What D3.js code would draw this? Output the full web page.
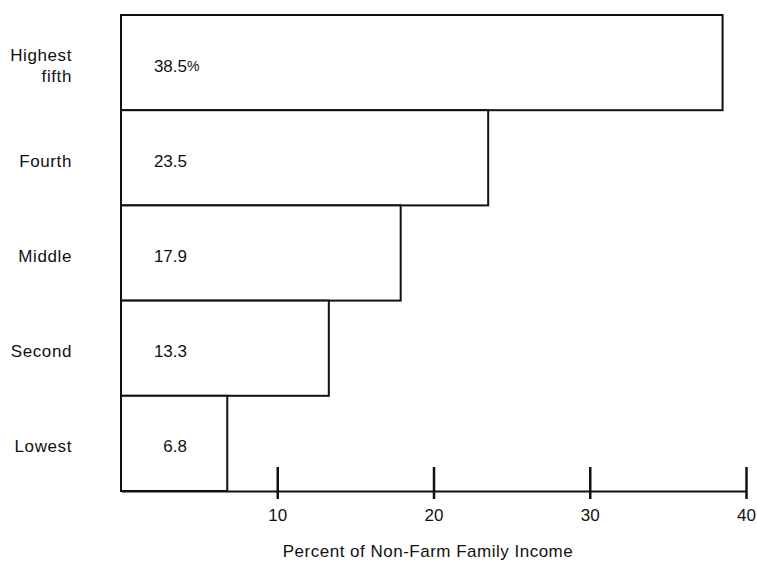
<!DOCTYPE html>
<html>
<head>
<meta charset="utf-8">
<script src="https://cdn.jsdelivr.net/npm/d3@7"></script>
<style>
  body { margin: 0; background: white; }
  text { font-family: "Liberation Sans", Arial, Helvetica, sans-serif; fill: #111; }
</style>
</head>
<body>
<div id="container"></div>
<script>
// data
let categories = ["Highest fifth", "Fourth", "Middle", "Second", "Lowest"];
let categoryLines = [["Highest", "fifth"], ["Fourth"], ["Middle"], ["Second"], ["Lowest"]];
let shares = [38.5, 23.5, 17.9, 13.3, 6.8];
let tickValues = [10, 20, 30, 40];
let axisTitle = "Percent of Non-Farm Family Income";

let w = 757;
let h = 562;

let viz = d3.select("#container")
  .append("svg")
    .attr("width", w)
    .attr("height", h)
    .style("background-color", "white");

let rows = categories.map(function(c, i){
  return {name: c, lines: categoryLines[i], value: shares[i], first: i == 0};
});

let xScale = d3.scaleLinear().domain([0, 40]).range([121, 746]);
let yScale = d3.scaleBand().domain(categories).range([15, 491]).padding(0);
let axisY = 491;

// bars
viz.selectAll(".bar").data(rows).enter()
  .append("rect")
    .attr("class", "bar")
    .attr("x", xScale(0))
    .attr("y", d => yScale(d.name))
    .attr("width", d => xScale(d.value) - xScale(0))
    .attr("height", yScale.bandwidth())
    .attr("fill", "white")
    .attr("stroke", "#111")
    .attr("stroke-width", 2);

// axis, ticks cross the line
let xAxis = d3.axisBottom(xScale).tickValues(tickValues).tickSize(8).tickSizeOuter(0);
let xAxisG = viz.append("g").attr("class", "xaxis")
  .attr("transform", "translate(0," + axisY + ")")
  .call(xAxis);
xAxisG.select(".domain").attr("stroke", "#111").attr("stroke-width", 2);
xAxisG.selectAll(".tick line")
  .attr("y1", -24)
  .attr("y2", 8)
  .attr("stroke", "#111")
  .attr("stroke-width", 2.5);
xAxisG.selectAll(".tick text")
  .attr("y", 24)
  .attr("dy", "0.35em")
  .attr("font-size", 17)
  .attr("fill", "#111")
  .style("font-family", "'Liberation Sans', Arial, sans-serif");

// category labels
let catG = viz.selectAll(".cat").data(rows).enter()
  .append("text")
    .attr("class", "cat")
    .attr("text-anchor", "end")
    .attr("font-size", 17)
    .attr("letter-spacing", 0.6)
    .attr("y", d => yScale(d.name) + yScale.bandwidth() / 2 + 3);
catG.selectAll("tspan").data(d => d.lines.map(function(l, i){ return {text: l, i: i, n: d.lines.length}; }))
  .enter().append("tspan")
    .attr("x", 72)
    .attr("dy", function(t){
      if(t.i == 0){ return (0.35 - (t.n - 1) * 0.62) + "em"; }
      return "1.25em";
    })
    .text(t => t.text);

// value labels, numbers right-aligned
viz.selectAll(".val").data(rows).enter()
  .append("text")
    .attr("class", "val")
    .attr("text-anchor", "end")
    .attr("x", 187)
    .attr("y", d => yScale(d.name) + yScale.bandwidth() / 2 + 3)
    .attr("dy", "0.35em")
    .attr("font-size", 17)
    .text(d => d3.format(".1f")(d.value));

viz.selectAll(".pct").data(rows.filter(d => d.first)).enter()
  .append("text")
    .attr("class", "pct")
    .attr("x", 187)
    .attr("y", d => yScale(d.name) + yScale.bandwidth() / 2 + 3)
    .attr("dy", "0.35em")
    .attr("font-size", 14)
    .text("%");

// axis title
viz.append("text")
  .attr("x", 428)
  .attr("y", 551)
  .attr("dy", "0.35em")
  .attr("text-anchor", "middle")
  .attr("font-size", 17)
  .attr("letter-spacing", 0.5)
  .text(axisTitle);
</script>
</body>
</html>
